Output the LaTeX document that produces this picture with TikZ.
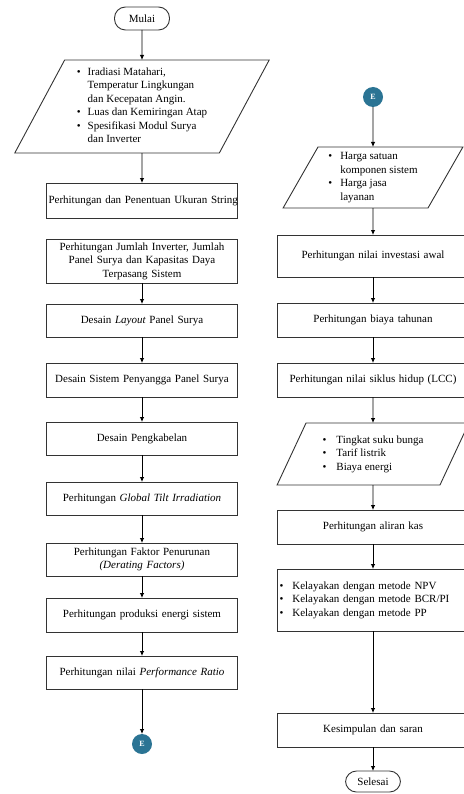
\documentclass[tikz,border=0pt]{standalone}
\usepackage{fontspec}
\setmainfont{Liberation Serif}
\usetikzlibrary{positioning, arrows.meta, shapes.geometric}
\definecolor{connblue}{RGB}{43,116,148}

\begin{document}
\begin{tikzpicture}[
    x=1pt, y=-1pt, node distance=25pt,
    proc/.style={rectangle, draw=black!80, line width=0.9pt, outer sep=0pt,
                 text width=187pt, inner xsep=2pt, inner ysep=1pt,
                 minimum height=33pt, align=center,
                 font=\fontsize{11}{13.5}\selectfont},
    inp/.style={trapezium, trapezium left angle=63, trapezium right angle=117,
                trapezium stretches=true, draw=black!80, line width=0.9pt,
                outer sep=0pt, inner sep=2pt, font=\fontsize{11}{13.5}\selectfont},
    term/.style={rectangle, rounded corners=11pt, draw=black!80, line width=0.9pt,
                 outer sep=0pt, minimum width=55pt, minimum height=23pt,
                 font=\fontsize{11}{13.5}\selectfont},
    conn/.style={circle, fill=connblue, minimum size=20pt, inner sep=0pt,
                 outer sep=0pt, text=white, font=\bfseries\fontsize{8}{9}\selectfont},
    arrow/.style={-{Latex[length=5pt, width=4.5pt]}, line width=0.9pt}
]
  \useasboundingbox (0,0) rectangle (463,794);

  % left column
  \node[term] (mulai) at (142,18.5) {Mulai};
  \node[inp, below=30pt of mulai, minimum width=255pt, minimum height=93pt] (input1)
    {\begin{tabular}{@{}l@{\hspace{7pt}}l@{}}
       \textbullet & Iradiasi Matahari,\\
                   & Temperatur Lingkungan\\
                   & dan Kecepatan Angin.\\
       \textbullet & Luas dan Kemiringan Atap\\
       \textbullet & Spesifikasi Modul Surya\\
                   & dan Inverter
     \end{tabular}};
  \node[proc, below=30pt of input1, minimum height=35pt] (string) {\mbox{Perhitungan dan Penentuan Ukuran String}};
  \node[proc, below=21pt of string, minimum height=44pt] (jumlah) {Perhitungan Jumlah Inverter, Jumlah\\Panel Surya dan Kapasitas Daya\\Terpasang Sistem};
  \node[proc, below=21pt of jumlah] (layout) {Desain \textit{Layout} Panel Surya};
  \node[proc, below=26pt of layout, minimum height=34pt] (penyangga) {Desain Sistem Penyangga Panel Surya};
  \node[proc, below=of penyangga] (kabel) {Desain Pengkabelan};
  \node[proc, below=27pt of kabel] (gti) {Perhitungan \textit{Global Tilt Irradiation}};
  \node[proc, below=28pt of gti] (derating) {Perhitungan Faktor Penurunan\\\textit{(Derating Factors)}};
  \node[proc, below=22pt of derating, minimum height=34pt] (produksi) {Perhitungan produksi energi sistem};
  \node[proc, below=24pt of produksi] (pr) {Perhitungan nilai \textit{Performance Ratio}};
  \node[conn, below=45pt of pr] (e1) {E};

  % right column
  \node[conn] (e2) at (373,97) {E};
  \node[inp, below=40pt of e2, minimum width=180pt, minimum height=61pt] (input2)
    {\begin{tabular}{@{}l@{\hspace{8pt}}l@{}}
       \textbullet & Harga satuan\\
                   & komponen sistem\\
       \textbullet & Harga jasa\\
                   & layanan
     \end{tabular}};
  \node[proc, below=27pt of input2, minimum height=42pt] (investasi) {Perhitungan nilai investasi awal};
  \node[proc, below=26pt of investasi, minimum height=34pt] (tahunan) {Perhitungan biaya tahunan};
  \node[proc, below=26pt of tahunan, minimum height=34pt] (lcc) {Perhitungan nilai siklus hidup (LCC)};
  \node[inp, below=26pt of lcc, minimum width=192pt, minimum height=62pt] (input3)
    {\begin{tabular}{@{}l@{\hspace{10pt}}l@{}}
       \textbullet & Tingkat suku bunga\\
       \textbullet & Tarif listrik\\
       \textbullet & Biaya energi
     \end{tabular}};
  \node[proc, below=of input3, minimum height=34pt] (kas) {Perhitungan aliran kas};
  \node[proc, below=of kas, minimum height=62pt, align=left] (kelayakan)
    {\begin{tabular}{@{}l@{\hspace{9pt}}l@{}}
       \textbullet & Kelayakan dengan metode NPV\\
       \textbullet & Kelayakan dengan metode BCR/PI\\
       \textbullet & Kelayakan dengan metode PP
     \end{tabular}};
  \node[proc, below=82pt of kelayakan, minimum height=34pt] (simpulan) {Kesimpulan dan saran};
  \node[term, below=24pt of simpulan, minimum height=21pt] (selesai) {Selesai};

  \draw[arrow] (mulai) -- (input1);
  \draw[arrow] (input1) -- (string);
  \draw[arrow] (jumlah) -- (layout);
  \draw[arrow] (layout) -- (penyangga);
  \draw[arrow] (penyangga) -- (kabel);
  \draw[arrow] (kabel) -- (gti);
  \draw[arrow] (gti) -- (derating);
  \draw[arrow] (derating) -- (produksi);
  \draw[arrow] (produksi) -- (pr);
  \draw[arrow] (pr) -- (e1);

  \draw[arrow] (e2) -- (input2);
  \draw[arrow] (input2) -- (investasi);
  \draw[arrow] (investasi) -- (tahunan);
  \draw[arrow] (tahunan) -- (lcc);
  \draw[arrow] (lcc) -- (input3);
  \draw[arrow] (input3) -- (kas);
  \draw[arrow] (kas) -- (kelayakan);
  \draw[arrow] (kelayakan) -- (simpulan);
  \draw[arrow] (simpulan) -- (selesai);
\end{tikzpicture}
\end{document}
